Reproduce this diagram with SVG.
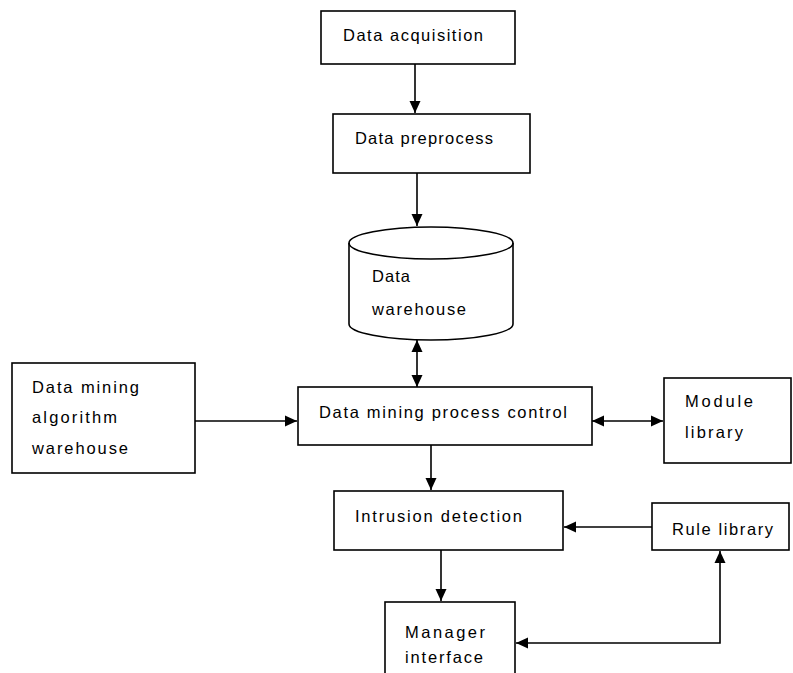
<svg xmlns="http://www.w3.org/2000/svg" width="793" height="673" viewBox="0 0 793 673">
<defs>
<marker id="ah" viewBox="0 0 12 12" refX="12" refY="6" markerWidth="12" markerHeight="12" markerUnits="userSpaceOnUse" orient="auto-start-reverse">
<path d="M0,0.5 L12,6 L0,11.5 Z" fill="#000"/>
</marker>
<style>
.box{fill:#fff;stroke:#000;stroke-width:1.6}
.t{font-family:"Liberation Sans",Arial,sans-serif;font-size:16.5px;fill:#000}
.c{fill:none;stroke:#000;stroke-width:1.6}
</style>
</defs>
<rect width="793" height="673" fill="#fff"/>
<g id="data-acquisition">
<rect class="box" x="321" y="11" width="194" height="53"/>
<text class="t" x="343" y="41" textLength="140" lengthAdjust="spacing">Data acquisition</text>
</g>
<g id="data-preprocess">
<rect class="box" x="333" y="114" width="197" height="59"/>
<text class="t" x="355" y="144" textLength="138" lengthAdjust="spacing">Data preprocess</text>
</g>
<g id="data-warehouse">
<path class="box" d="M349,243 A82,16 0 0 1 513,243 L513,324 A82,16 0 0 1 349,324 Z"/>
<path class="c" d="M349,243 A82,16 0 0 0 513,243"/>
<text class="t" x="372" y="282" textLength="38" lengthAdjust="spacing">Data</text>
<text class="t" x="372" y="315" textLength="94" lengthAdjust="spacing">warehouse</text>
</g>
<g id="algorithm-warehouse">
<rect class="box" x="12" y="363" width="183" height="110"/>
<text class="t" x="32" y="393" textLength="107" lengthAdjust="spacing">Data mining</text>
<text class="t" x="32" y="423" textLength="85" lengthAdjust="spacing">algorithm</text>
<text class="t" x="32" y="454" textLength="96" lengthAdjust="spacing">warehouse</text>
</g>
<g id="process-control">
<rect class="box" x="298" y="387" width="294" height="58"/>
<text class="t" x="319" y="418" textLength="248" lengthAdjust="spacing">Data mining process control</text>
</g>
<g id="module-library">
<rect class="box" x="664" y="378" width="127" height="85"/>
<text class="t" x="685" y="407" textLength="68" lengthAdjust="spacing">Module</text>
<text class="t" x="685" y="438" textLength="58" lengthAdjust="spacing">library</text>
</g>
<g id="intrusion-detection">
<rect class="box" x="334" y="491" width="229" height="59"/>
<text class="t" x="355" y="522" textLength="167" lengthAdjust="spacing">Intrusion detection</text>
</g>
<g id="rule-library">
<rect class="box" x="652" y="503" width="137" height="47"/>
<text class="t" x="672" y="535" textLength="101" lengthAdjust="spacing">Rule library</text>
</g>
<g id="manager-interface">
<rect class="box" x="385" y="602" width="130" height="80"/>
<text class="t" x="405" y="638" textLength="80" lengthAdjust="spacing">Manager</text>
<text class="t" x="405" y="663" textLength="78" lengthAdjust="spacing">interface</text>
</g>
<g id="connectors">
<line class="c" x1="415" y1="64" x2="415" y2="113" marker-end="url(#ah)"/>
<line class="c" x1="417" y1="173" x2="417" y2="226" marker-end="url(#ah)"/>
<line class="c" x1="417" y1="340" x2="417" y2="387" marker-start="url(#ah)" marker-end="url(#ah)"/>
<line class="c" x1="195" y1="421" x2="297" y2="421" marker-end="url(#ah)"/>
<line class="c" x1="592" y1="421" x2="663" y2="421" marker-start="url(#ah)" marker-end="url(#ah)"/>
<line class="c" x1="431" y1="445" x2="431" y2="490" marker-end="url(#ah)"/>
<line class="c" x1="652" y1="527" x2="564" y2="527" marker-end="url(#ah)"/>
<line class="c" x1="441" y1="550" x2="441" y2="601" marker-end="url(#ah)"/>
<polyline class="c" points="516,643 720,643 720,551" marker-start="url(#ah)" marker-end="url(#ah)"/>
</g>
</svg>
